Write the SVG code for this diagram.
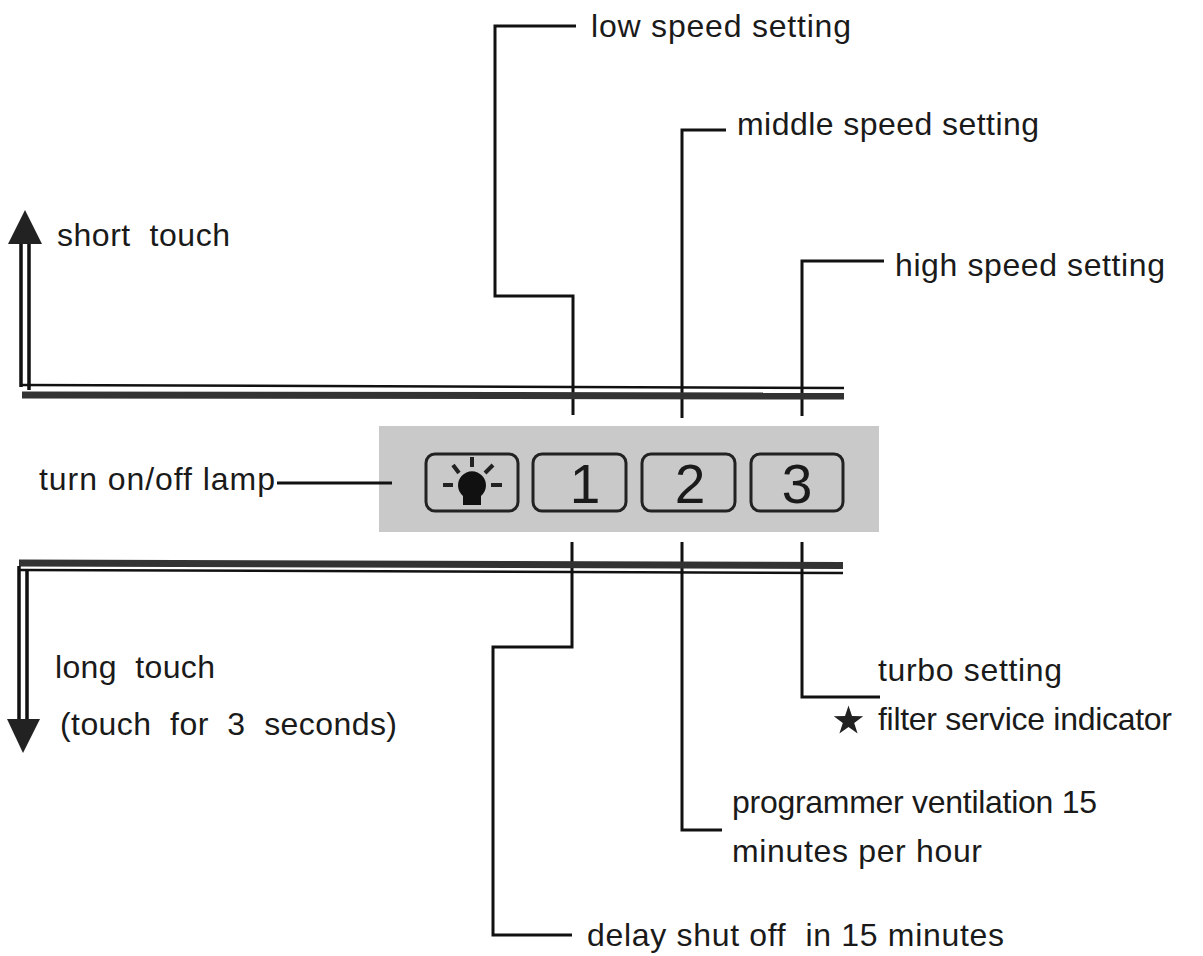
<svg xmlns="http://www.w3.org/2000/svg" width="1203" height="956" viewBox="0 0 1203 956">
<style>
text{font-family:"Liberation Sans",Arial,sans-serif;font-size:32px;fill:#1a1a1a;white-space:pre}
.lead{fill:none;stroke:#111;stroke-width:3}
.btn{fill:none;stroke:#222;stroke-width:3}
.num{font-size:55px;text-anchor:middle}
.shaft{stroke:#111;stroke-width:3.500;fill:none}
.bar{stroke:#333;stroke-width:7;fill:none}
.thin{stroke:#111;stroke-width:2.500;fill:none}
.head{fill:#222}
</style>
<rect width="1203" height="956" fill="#fff"/>
<g id="panel">
<rect x="379" y="426" width="500" height="106" fill="#c9c9c9"/>
</g>
<g id="btn-lamp">
<rect class="btn" x="426" y="454" width="92" height="57" rx="9"/>
<path d="M463 496a14 14 0 1 1 18 0v9h-18z" fill="#111"/>
<path d="M472 457v10M453 465l6 8M493 465l-8 8M443 485h10M491 485h11" stroke="#222" stroke-width="4" fill="none"/>
</g>
<g id="btn-1"><rect class="btn" x="533" y="454" width="93" height="57" rx="9"/><text class="num" x="585" y="503">1</text></g>
<g id="btn-2"><rect class="btn" x="642" y="454" width="93" height="57" rx="9"/><text class="num" x="690" y="503">2</text></g>
<g id="btn-3"><rect class="btn" x="751" y="454" width="92" height="57" rx="9"/><text class="num" x="797" y="503">3</text></g>
<g id="connectors">
<path class="lead" d="M573 415V296H495V26H576"/>
<path class="lead" d="M682 418V130H726"/>
<path class="lead" d="M802 416V261H884"/>
<path class="lead" d="M572 542V647H493V935H572"/>
<path class="lead" d="M682 542V830H722"/>
<path class="lead" d="M802 542V697H880"/>
<path class="lead" d="M277 483H392"/>
</g>
<g id="short-touch-bar">
<path class="thin" d="M21 385L844 388"/>
<path class="shaft" d="M21 240V387M29 240V390"/>
<path class="bar" d="M22 395L844 396"/>
<path class="head" d="M25 210L42 244H8z"/>
</g>
<g id="long-touch-bar">
<path class="bar" d="M19 563L843 565.500"/>
<path class="thin" d="M19 570L843 573"/>
<path class="shaft" d="M19 566V720M27 571V720"/>
<path class="head" d="M23 753L40 719H7z"/>
</g>
<g id="labels">
<text x="591" y="37" textLength="260">low speed setting</text>
<text x="737" y="135" textLength="302">middle speed setting</text>
<text x="895" y="276" textLength="270">high speed setting</text>
<text x="57" y="246" textLength="173">short  touch</text>
<text x="39" y="490" textLength="236">turn on/off lamp</text>
<text x="55" y="678" textLength="160">long  touch</text>
<text x="60" y="735" textLength="337">(touch  for  3  seconds)</text>
<text x="878" y="681" textLength="184">turbo setting</text>
<text x="878" y="730" textLength="294">filter service indicator</text>
<text x="732" y="813" textLength="365">programmer ventilation 15</text>
<text x="732" y="862" textLength="250">minutes per hour</text>
<text x="587" y="946" textLength="417">delay shut off  in 15 minutes</text>
</g>
<g id="star"><polygon points="848.500,705.500 852,716.100 863.200,716.200 854.200,722.900 857.600,733.500 848.500,727 839.400,733.500 842.800,722.900 833.800,716.200 845,716.100" fill="#222"/></g>
</svg>
